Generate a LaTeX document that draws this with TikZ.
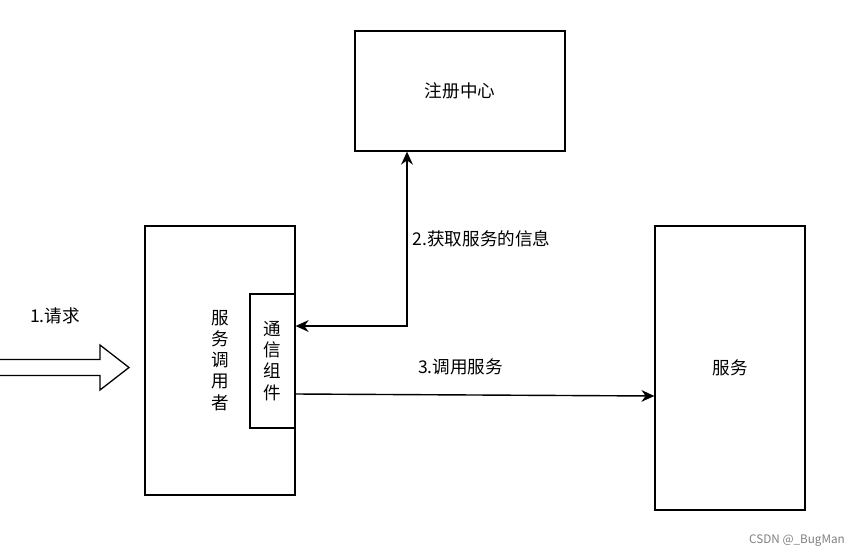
\documentclass[tikz,border=0pt]{standalone}
\usepackage{fontspec}
\setmainfont{Noto Sans CJK SC}
\usetikzlibrary{arrows.meta}

\begin{document}
\begin{tikzpicture}[x=0.03cm, y=-0.03cm,
    main/.style = {draw, line width=1.1pt, fill=white, inner sep=0pt, align=center, font=\fontsize{15}{18}\selectfont},
    lbl/.style = {font=\fontsize{15}{18}\selectfont},
    tip/.style = {Stealth[length=11pt, width=10pt, inset=3.5pt]},
    link/.style = {line width=1.2pt, -{Stealth[length=11pt, width=10pt, inset=3.5pt]}}]
            \useasboundingbox (0,0) rectangle (863,559);

            \node[main, minimum width=6.3cm, minimum height=3.6cm] (reg) at (460,91) {注册中心};
            \node[main, minimum width=4.5cm, minimum height=8.07cm] (caller) at (220,360.5) {服\\务\\调\\用\\者};
            \node[main, minimum width=1.35cm, minimum height=4.02cm] (comm) at (272.5,361) {通\\信\\组\\件};
            \node[main, minimum width=4.5cm, minimum height=8.52cm] (svc) at (730,368) {服务};

            \draw[line width=1.1pt] (0,359.5) -- (100,359.5) -- (100,345) -- (129,367.5) -- (100,390) -- (100,375.5) -- (0,375.5);
            \node[lbl] (req) at (55,316) {1.请求};

            \coordinate (bend) at (407,326);
            \draw[link, {Stealth[length=11pt, width=10pt, inset=3.5pt]}-{Stealth[length=11pt, width=10pt, inset=3.5pt]}] (reg.south -| bend) |- (comm.east |- bend) node[pos=0.25, right=1pt, lbl] {2.获取服务的信息};

            \path[link] (comm.east |- 0,394) edge node[pos=0.46, above=0.45cm, lbl] {3.调用服务} (svc.west |- 0,396);

            \node[text=gray, font=\fontsize{10}{12}\selectfont] (mark) at (797,541) {CSDN @\_BugMan};
\end{tikzpicture}
\end{document}
